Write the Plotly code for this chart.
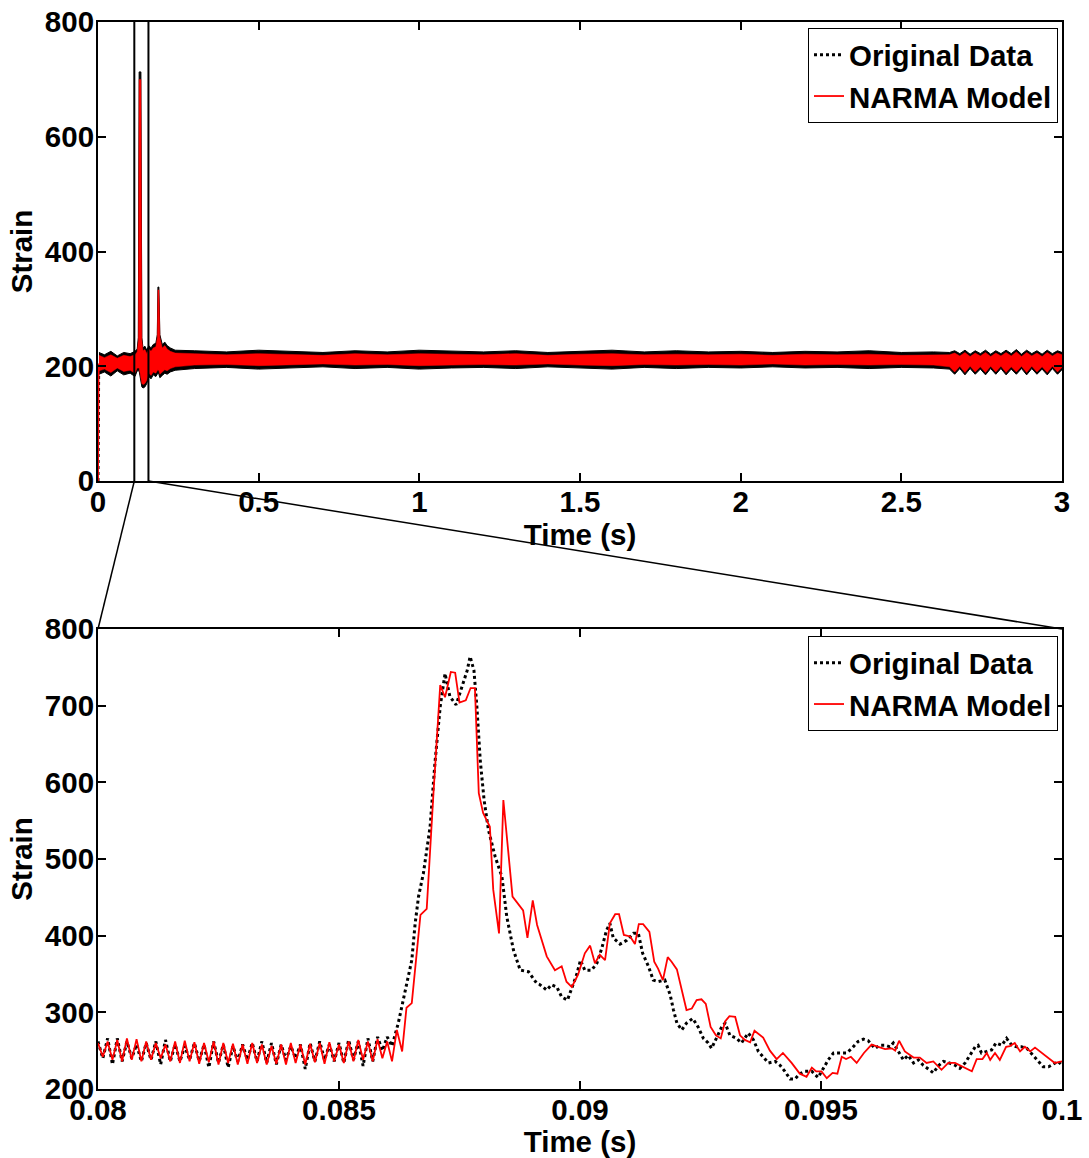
import plotly.graph_objects as go

# ---------------- TOP PANEL (0-3 s): envelope of the dense signal ----------------
top_t_pre = [0.003, 0.02, 0.04, 0.06, 0.08, 0.10]
top_t_spike = [0.115, 0.122, 0.1255, 0.128, 0.1335, 0.1365, 0.140, 0.146, 0.152, 0.158, 0.165,
               0.172, 0.180, 0.1845, 0.1865, 0.1895, 0.1925, 0.200, 0.208, 0.215, 0.225, 0.24]
top_t_steady = [0.3, 0.4, 0.5, 0.6, 0.7, 0.8, 0.9, 1.0, 1.1, 1.2, 1.3, 1.4, 1.5, 1.6, 1.7, 1.8,
                1.9, 2.0, 2.1, 2.2, 2.3, 2.4, 2.5, 2.6]
top_t_beat = [2.65, 2.666, 2.682, 2.698, 2.714, 2.730, 2.746, 2.762, 2.778, 2.794, 2.810, 2.826,
              2.842, 2.858, 2.874, 2.890, 2.906, 2.922, 2.938, 2.954, 2.970, 2.986, 3.0]

orig_upper_pre = [224, 220, 226, 218, 224, 222]
orig_lower_pre = [186, 190, 183, 192, 185, 188]
narma_upper_pre = [219, 215, 220, 214, 219, 217]
narma_lower_pre = [192, 195, 189, 197, 191, 193]

orig_upper_spike = [226, 230, 250, 713, 713, 250, 232, 235, 228, 236, 232, 238, 240, 255, 338, 338,
                    255, 238, 242, 236, 232, 228]
orig_lower_spike = [182, 192, 192, 192, 175, 164, 162, 164, 170, 182, 178, 185, 182, 186, 188, 186,
                    180, 184, 188, 186, 190, 193]
narma_upper_spike = [220, 225, 245, 700, 700, 245, 227, 229, 222, 230, 226, 232, 234, 250, 333, 333,
                     250, 232, 236, 230, 226, 223]
narma_lower_spike = [188, 197, 197, 197, 180, 170, 168, 170, 176, 188, 184, 190, 188, 192, 194, 192,
                     186, 190, 194, 192, 196, 199]

orig_upper_steady = [227, 225, 228, 226, 224, 227, 225, 228, 226, 225, 227, 224, 226, 228, 225, 227,
                     225, 226, 224, 226, 225, 227, 224, 225]
orig_lower_steady = [196, 198, 195, 197, 199, 196, 198, 195, 197, 198, 196, 199, 197, 195, 198, 196,
                     198, 197, 199, 197, 198, 196, 198, 197]
narma_upper_steady = [222, 220, 222, 221, 219, 222, 220, 222, 221, 220, 222, 219, 221, 222, 220, 221,
                      220, 221, 219, 221, 220, 221, 219, 220]
narma_lower_steady = [202, 203, 201, 202, 204, 202, 203, 201, 202, 203, 202, 204, 202, 201, 203, 202,
                      203, 202, 204, 202, 203, 202, 203, 202]

orig_upper_beat = [224, 227, 222, 228, 221, 227, 222, 228, 221, 227, 222, 228, 222, 229, 221, 228,
                   222, 227, 221, 228, 222, 227, 224]
orig_lower_beat = [195, 186, 196, 185, 196, 186, 195, 185, 196, 186, 196, 185, 195, 186, 196, 185,
                   196, 186, 195, 185, 196, 186, 194]
narma_upper_beat = [220, 223, 218, 224, 217, 223, 218, 224, 217, 223, 218, 224, 218, 225, 217, 224,
                    218, 223, 217, 224, 218, 223, 220]
narma_lower_beat = [199, 190, 200, 189, 200, 190, 199, 189, 200, 190, 200, 189, 199, 190, 200, 189,
                    200, 190, 199, 189, 200, 190, 198]

start_t = [0.0, 0.002]
orig_start = [0, 188]
narma_start = [0, 205]

zoom_box_t = [0.113, 0.157]

# ---------------- BOTTOM PANEL (0.08-0.1 s) ----------------
sample_dt = 0.0001
narma_osc = [260, 242, 262, 238, 264, 236, 266, 238, 265, 236, 262, 238, 260, 240, 258, 236, 262, 234,
             263, 236, 261, 233, 260, 235, 262, 232, 260, 234, 259, 232, 258, 233, 260, 234, 258, 232,
             256, 233, 258, 232, 260, 234, 258, 232, 259, 235, 260, 233, 261, 236, 258, 234, 262, 236,
             264, 238, 262, 236, 265, 240, 262, 236]
orig_osc = [262, 240, 266, 232, 266, 236, 262, 240, 258, 236, 260, 238, 262, 232, 264, 236, 258, 236,
            256, 238, 260, 236, 258, 228, 262, 234, 258, 228, 256, 236, 258, 238, 260, 236, 262, 234,
            260, 232, 258, 238, 256, 240, 258, 226, 260, 236, 262, 238, 258, 236, 260, 234, 264, 238,
            262, 230, 266, 236, 268, 250, 268, 256]

narma_evt_t = [0.08620, 0.08631, 0.08640, 0.08651, 0.08669, 0.08682, 0.08696, 0.08710, 0.08720, 0.08732,
               0.08741, 0.08750, 0.08763, 0.08773, 0.08782, 0.08790, 0.08799, 0.08813, 0.08820, 0.08832,
               0.08841, 0.08860, 0.08882, 0.08891, 0.08902, 0.08911, 0.08931, 0.08948, 0.08962, 0.08972,
               0.08983, 0.08996, 0.09010, 0.09021, 0.09031, 0.09041, 0.09052, 0.09062, 0.09073, 0.09081,
               0.09091, 0.09104, 0.09114, 0.09122, 0.09131, 0.09144, 0.09154, 0.09162, 0.09172, 0.09182,
               0.09190, 0.09201, 0.09221, 0.09232, 0.09242, 0.09252, 0.09261, 0.09271, 0.09282, 0.09292,
               0.09301, 0.09310, 0.09322, 0.09332, 0.09342, 0.09353, 0.09362, 0.09370, 0.09380, 0.09394,
               0.09408, 0.09421, 0.09439, 0.09456, 0.09470, 0.09481, 0.09490, 0.09501, 0.09512, 0.09524,
               0.09534, 0.09543, 0.09552, 0.09562, 0.09574, 0.09589, 0.09605, 0.09619, 0.09633, 0.09647,
               0.09654, 0.09662, 0.09674, 0.09692, 0.09705, 0.09719, 0.09733, 0.09750, 0.09764, 0.09778,
               0.09795, 0.09813, 0.09823, 0.09835, 0.09844, 0.09851, 0.09861, 0.09871, 0.09884, 0.09892,
               0.09902, 0.09913, 0.09923, 0.09934, 0.09944, 0.09958, 0.09972, 0.09985, 0.10000]
narma_evt_v = [277, 249, 306, 312, 427, 435, 586, 727, 711, 744,
               743, 704, 707, 723, 723, 586, 560, 542, 460, 403,
               577, 451, 433, 397, 446, 414, 373, 355, 360, 340,
               333, 349, 377, 387, 364, 375, 368, 416, 428, 428,
               401, 399, 389, 415, 415, 405, 366, 357, 342, 372,
               366, 356, 303, 305, 316, 317, 311, 281, 270, 266,
               288, 295, 294, 270, 264, 261, 276, 272, 267, 250,
               239, 247, 234, 220, 216, 228, 223, 223, 214, 221,
               220, 242, 239, 242, 234, 247, 258, 255, 252, 253,
               250, 263, 249, 241, 241, 234, 236, 225, 234, 234,
               229, 223, 239, 239, 247, 238, 247, 238, 255, 256,
               260, 249, 255, 249, 254, 247, 240, 234, 236]

orig_evt_t = [0.08623, 0.08637, 0.08651, 0.08658, 0.08665, 0.08675, 0.08689, 0.08699, 0.08710, 0.08720,
              0.08730, 0.08743, 0.08755, 0.08766, 0.08772, 0.08780, 0.08786, 0.08793, 0.08801, 0.08810,
              0.08824, 0.08838, 0.08848, 0.08862, 0.08876, 0.08893, 0.08910, 0.08917, 0.08931, 0.08941,
              0.08952, 0.08962, 0.08974, 0.08983, 0.08993, 0.09001, 0.09010, 0.09024, 0.09035, 0.09045,
              0.09055, 0.09062, 0.09069, 0.09083, 0.09097, 0.09111, 0.09121, 0.09130, 0.09142, 0.09152,
              0.09162, 0.09176, 0.09187, 0.09194, 0.09201, 0.09211, 0.09221, 0.09234, 0.09245, 0.09256,
              0.09266, 0.09273, 0.09284, 0.09294, 0.09301, 0.09311, 0.09325, 0.09335, 0.09349, 0.09360,
              0.09370, 0.09380, 0.09391, 0.09405, 0.09415, 0.09425, 0.09436, 0.09446, 0.09456, 0.09467,
              0.09481, 0.09494, 0.09505, 0.09515, 0.09526, 0.09539, 0.09553, 0.09564, 0.09577, 0.09588,
              0.09598, 0.09612, 0.09622, 0.09633, 0.09643, 0.09650, 0.09660, 0.09671, 0.09681, 0.09692,
              0.09702, 0.09712, 0.09723, 0.09733, 0.09743, 0.09754, 0.09766, 0.09778, 0.09788, 0.09799,
              0.09809, 0.09820, 0.09826, 0.09833, 0.09844, 0.09854, 0.09863, 0.09875, 0.09885, 0.09896,
              0.09906, 0.09916, 0.09927, 0.09937, 0.09947, 0.09961, 0.09972, 0.09982, 0.09992, 0.10000]
orig_evt_v = [286, 325, 368, 416, 451, 481, 542, 625, 699, 742,
              712, 701, 725, 746, 764, 746, 699, 629, 577, 538,
              503, 477, 425, 381, 355, 353, 338, 336, 329, 336,
              333, 320, 316, 331, 349, 368, 355, 355, 364, 383,
              407, 416, 397, 389, 394, 403, 403, 377, 360, 342,
              340, 342, 323, 303, 286, 277, 286, 292, 281, 266,
              260, 253, 268, 281, 286, 270, 266, 260, 273, 264,
              249, 242, 234, 236, 231, 223, 213, 213, 220, 223,
              223, 215, 227, 238, 247, 247, 247, 253, 262, 265,
              263, 253, 257, 257, 255, 260, 249, 238, 244, 234,
              238, 231, 226, 221, 230, 236, 234, 231, 227, 234,
              244, 255, 257, 247, 249, 251, 260, 257, 266, 257,
              255, 255, 253, 246, 238, 229, 229, 233, 236, 231]

# ---------------- assemble ----------------
W, H = 1089, 1158
xdom = [98 / W, 1062 / W]
top_ydom = [1 - 481 / H, 1 - 22 / H]
bot_ydom = [1 - 1089 / H, 1 - 629 / H]

top_t = top_t_pre + top_t_spike + top_t_steady + top_t_beat
orig_up = orig_upper_pre + orig_upper_spike + orig_upper_steady + orig_upper_beat
orig_lo = orig_lower_pre + orig_lower_spike + orig_lower_steady + orig_lower_beat
narma_up = narma_upper_pre + narma_upper_spike + narma_upper_steady + narma_upper_beat
narma_lo = narma_lower_pre + narma_lower_spike + narma_lower_steady + narma_lower_beat

osc_t = [round(0.08 + sample_dt * k, 5) for k in range(len(narma_osc))]
narma_bt = osc_t + narma_evt_t
narma_bv = narma_osc + narma_evt_v
orig_bt = osc_t + orig_evt_t
orig_bv = orig_osc + orig_evt_v

FONT = dict(family="Liberation Sans, Arial, sans-serif", size=29.5, color="black", weight="bold")

fig = go.Figure()

# top: bands
fig.add_trace(go.Scatter(x=top_t + top_t[::-1], y=orig_up + orig_lo[::-1], fill="toself",
                         fillcolor="black", mode="lines", line=dict(color="black", width=1),
                         showlegend=False, hoverinfo="skip", xaxis="x", yaxis="y"))
fig.add_trace(go.Scatter(x=top_t + top_t[::-1], y=narma_up + narma_lo[::-1], fill="toself",
                         fillcolor="red", mode="lines", line=dict(color="red", width=0.5),
                         showlegend=False, hoverinfo="skip", xaxis="x", yaxis="y"))
fig.add_trace(go.Scatter(x=start_t, y=orig_start, mode="lines", name="Original Data",
                         line=dict(color="black", width=3, dash="dot"), legend="legend",
                         xaxis="x", yaxis="y"))
fig.add_trace(go.Scatter(x=start_t, y=narma_start, mode="lines", name="NARMA Model",
                         line=dict(color="red", width=1.8), legend="legend",
                         xaxis="x", yaxis="y"))

# bottom
fig.add_trace(go.Scatter(x=orig_bt, y=orig_bv, mode="lines", name="Original Data",
                         line=dict(color="black", width=3, dash="dot"), legend="legend2",
                         xaxis="x2", yaxis="y2"))
fig.add_trace(go.Scatter(x=narma_bt, y=narma_bv, mode="lines", name="NARMA Model",
                         line=dict(color="red", width=1.8), legend="legend2",
                         xaxis="x2", yaxis="y2"))

axis_common = dict(showline=True, linecolor="black", linewidth=2, mirror="allticks",
                   ticks="inside", ticklen=8, tickwidth=1.5, tickcolor="black",
                   showgrid=False, zeroline=False, tickfont=FONT, automargin=False)
xax = dict(ticklabelstandoff=-6, **axis_common)
yax = dict(ticklabelstandoff=-4, **axis_common)

fig.update_layout(
    width=W, height=H,
    margin=dict(l=0, r=0, t=0, b=0),
    paper_bgcolor="white", plot_bgcolor="white",
    font=FONT,
    xaxis=dict(domain=xdom, range=[0, 3], anchor="y", tickvals=[0, 0.5, 1, 1.5, 2, 2.5, 3],
               title=dict(text="Time (s)", font=FONT, standoff=0), **xax),
    yaxis=dict(domain=top_ydom, range=[0, 800], anchor="x", tickvals=[0, 200, 400, 600, 800],
               title=dict(text="Strain", font=FONT, standoff=4), **yax),
    xaxis2=dict(domain=xdom, range=[0.08, 0.1], anchor="y2",
                tickvals=[0.08, 0.085, 0.09, 0.095, 0.1],
                ticktext=["0.08", "0.085", "0.09", "0.095", "0.1"],
                title=dict(text="Time (s)", font=FONT, standoff=0), **xax),
    yaxis2=dict(domain=bot_ydom, range=[200, 800], anchor="x2",
                tickvals=[200, 300, 400, 500, 600, 700, 800],
                title=dict(text="Strain", font=FONT, standoff=4), **yax),
    legend=dict(x=1058 / W, y=1 - 28 / H, xanchor="right", yanchor="top", bgcolor="white",
                bordercolor="black", borderwidth=1, font=FONT, tracegroupgap=0),
    legend2=dict(x=1058 / W, y=1 - 636 / H, xanchor="right", yanchor="top", bgcolor="white",
                 bordercolor="black", borderwidth=1, font=FONT, tracegroupgap=0),
)

# zoom window and connectors
def top_frac(t):
    return xdom[0] + t / 3.0 * (xdom[1] - xdom[0])

shapes = []
for zt in zoom_box_t:
    shapes.append(dict(type="line", xref="x", yref="y", x0=zt, x1=zt, y0=0, y1=800,
                       line=dict(color="black", width=2)))
shapes.append(dict(type="line", xref="paper", yref="paper", x0=top_frac(zoom_box_t[0]), y0=top_ydom[0],
                   x1=xdom[0], y1=bot_ydom[1], line=dict(color="black", width=1.5)))
shapes.append(dict(type="line", xref="paper", yref="paper", x0=top_frac(zoom_box_t[1]), y0=top_ydom[0],
                   x1=xdom[1], y1=bot_ydom[1], line=dict(color="black", width=1.5)))
fig.update_layout(shapes=shapes)

fig.write_html("out.html", config={"displayModeBar": False},
               post_script="document.body.style.margin='0';")
